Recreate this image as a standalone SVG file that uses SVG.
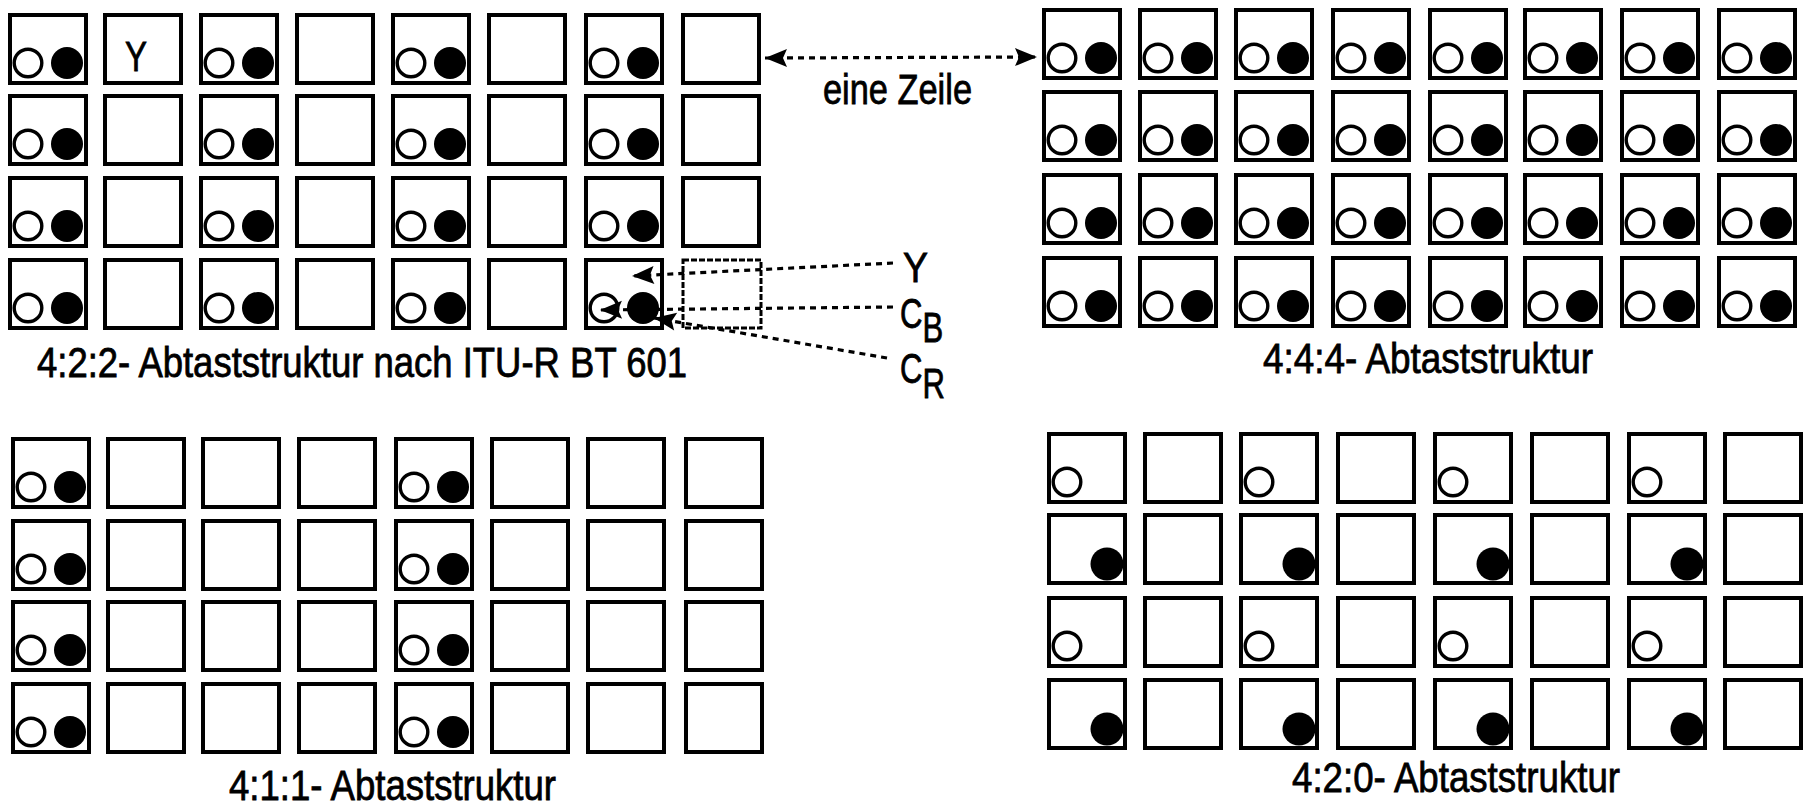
<svg xmlns="http://www.w3.org/2000/svg" width="1804" height="810" viewBox="0 0 1804 810">
  <style>
    .box { fill: #fff; stroke: #000; stroke-width: 4; }
    .open { fill: #fff; stroke: #000; stroke-width: 3.4; }
    .full { fill: #000; }
    .dash { fill: none; stroke: #000; stroke-width: 3; stroke-dasharray: 6 2; }
    .conn { fill: none; stroke: #000; stroke-width: 3.2; stroke-dasharray: 6 5; }
    text { font-family: "Liberation Sans", Arial, sans-serif; fill: #000; stroke: #000; stroke-width: 0.8; }
    .lbl { font-size: 42px; }
    .sym { font-size: 42px; }
  </style>
  <defs>
    <marker id="head" markerUnits="userSpaceOnUse" markerWidth="30" markerHeight="30" refX="22" refY="0" orient="auto-start-reverse" overflow="visible">
      <path d="M0,-9 L22,0 L0,9 L4,0 z" fill="#000"/>
    </marker>
    <!-- cell templates: outer box 80 x 72 -->
    <g id="box"><rect class="box" x="2" y="2" width="76" height="68"/></g>
    <g id="both"><use href="#box"/><circle class="open" cx="20" cy="50" r="13.8"/><circle class="full" cx="59" cy="50" r="16"/></g>
    <g id="cb"><use href="#box"/><circle class="open" cx="20" cy="50" r="13.8"/></g>
    <g id="cr"><use href="#box"/><circle class="full" cx="60" cy="51" r="16.5"/></g>
  </defs>
  <rect width="1804" height="810" fill="#fff"/>

  <!-- 4:2:2 -->
  <g id="grid422">
    <use id="s422-1-1" href="#both" x="8" y="13"/>
    <g id="s422-1-2"><use href="#box" x="103" y="13"/><text class="sym" x="125" y="71" textLength="22" lengthAdjust="spacingAndGlyphs">Y</text></g>
    <use id="s422-1-3" href="#both" x="199" y="13"/>
    <use id="s422-1-4" href="#box" x="295" y="13"/>
    <use id="s422-1-5" href="#both" x="391" y="13"/>
    <use id="s422-1-6" href="#box" x="487" y="13"/>
    <use id="s422-1-7" href="#both" x="584" y="13"/>
    <use id="s422-1-8" href="#box" x="681" y="13"/>

    <use id="s422-2-1" href="#both" x="8" y="94"/>
    <use id="s422-2-2" href="#box" x="103" y="94"/>
    <use id="s422-2-3" href="#both" x="199" y="94"/>
    <use id="s422-2-4" href="#box" x="295" y="94"/>
    <use id="s422-2-5" href="#both" x="391" y="94"/>
    <use id="s422-2-6" href="#box" x="487" y="94"/>
    <use id="s422-2-7" href="#both" x="584" y="94"/>
    <use id="s422-2-8" href="#box" x="681" y="94"/>

    <use id="s422-3-1" href="#both" x="8" y="176"/>
    <use id="s422-3-2" href="#box" x="103" y="176"/>
    <use id="s422-3-3" href="#both" x="199" y="176"/>
    <use id="s422-3-4" href="#box" x="295" y="176"/>
    <use id="s422-3-5" href="#both" x="391" y="176"/>
    <use id="s422-3-6" href="#box" x="487" y="176"/>
    <use id="s422-3-7" href="#both" x="584" y="176"/>
    <use id="s422-3-8" href="#box" x="681" y="176"/>

    <use id="s422-4-1" href="#both" x="8" y="258"/>
    <use id="s422-4-2" href="#box" x="103" y="258"/>
    <use id="s422-4-3" href="#both" x="199" y="258"/>
    <use id="s422-4-4" href="#box" x="295" y="258"/>
    <use id="s422-4-5" href="#both" x="391" y="258"/>
    <use id="s422-4-6" href="#box" x="487" y="258"/>
    <use id="s422-4-7" href="#both" x="584" y="258"/>
    <rect id="s422-4-8" class="dash" x="683" y="260" width="78" height="68"/>
    <text class="lbl" x="37" y="377" textLength="650" lengthAdjust="spacingAndGlyphs">4:2:2- Abtaststruktur nach ITU-R BT 601</text>
  </g>

  <!-- 4:4:4 -->
  <g id="grid444">
    <use id="s444-1-1" href="#both" x="1042" y="8"/>
    <use id="s444-1-2" href="#both" x="1138" y="8"/>
    <use id="s444-1-3" href="#both" x="1234" y="8"/>
    <use id="s444-1-4" href="#both" x="1331" y="8"/>
    <use id="s444-1-5" href="#both" x="1428" y="8"/>
    <use id="s444-1-6" href="#both" x="1523" y="8"/>
    <use id="s444-1-7" href="#both" x="1620" y="8"/>
    <use id="s444-1-8" href="#both" x="1717" y="8"/>

    <use id="s444-2-1" href="#both" x="1042" y="90"/>
    <use id="s444-2-2" href="#both" x="1138" y="90"/>
    <use id="s444-2-3" href="#both" x="1234" y="90"/>
    <use id="s444-2-4" href="#both" x="1331" y="90"/>
    <use id="s444-2-5" href="#both" x="1428" y="90"/>
    <use id="s444-2-6" href="#both" x="1523" y="90"/>
    <use id="s444-2-7" href="#both" x="1620" y="90"/>
    <use id="s444-2-8" href="#both" x="1717" y="90"/>

    <use id="s444-3-1" href="#both" x="1042" y="173"/>
    <use id="s444-3-2" href="#both" x="1138" y="173"/>
    <use id="s444-3-3" href="#both" x="1234" y="173"/>
    <use id="s444-3-4" href="#both" x="1331" y="173"/>
    <use id="s444-3-5" href="#both" x="1428" y="173"/>
    <use id="s444-3-6" href="#both" x="1523" y="173"/>
    <use id="s444-3-7" href="#both" x="1620" y="173"/>
    <use id="s444-3-8" href="#both" x="1717" y="173"/>

    <use id="s444-4-1" href="#both" x="1042" y="256"/>
    <use id="s444-4-2" href="#both" x="1138" y="256"/>
    <use id="s444-4-3" href="#both" x="1234" y="256"/>
    <use id="s444-4-4" href="#both" x="1331" y="256"/>
    <use id="s444-4-5" href="#both" x="1428" y="256"/>
    <use id="s444-4-6" href="#both" x="1523" y="256"/>
    <use id="s444-4-7" href="#both" x="1620" y="256"/>
    <use id="s444-4-8" href="#both" x="1717" y="256"/>
    <text class="lbl" x="1263" y="373" textLength="330" lengthAdjust="spacingAndGlyphs">4:4:4- Abtaststruktur</text>
  </g>

  <!-- 4:1:1 -->
  <g id="grid411">
    <use id="s411-1-1" href="#both" x="11" y="437"/>
    <use id="s411-1-2" href="#box" x="106" y="437"/>
    <use id="s411-1-3" href="#box" x="201" y="437"/>
    <use id="s411-1-4" href="#box" x="297" y="437"/>
    <use id="s411-1-5" href="#both" x="394" y="437"/>
    <use id="s411-1-6" href="#box" x="490" y="437"/>
    <use id="s411-1-7" href="#box" x="586" y="437"/>
    <use id="s411-1-8" href="#box" x="684" y="437"/>

    <use id="s411-2-1" href="#both" x="11" y="519"/>
    <use id="s411-2-2" href="#box" x="106" y="519"/>
    <use id="s411-2-3" href="#box" x="201" y="519"/>
    <use id="s411-2-4" href="#box" x="297" y="519"/>
    <use id="s411-2-5" href="#both" x="394" y="519"/>
    <use id="s411-2-6" href="#box" x="490" y="519"/>
    <use id="s411-2-7" href="#box" x="586" y="519"/>
    <use id="s411-2-8" href="#box" x="684" y="519"/>

    <use id="s411-3-1" href="#both" x="11" y="600"/>
    <use id="s411-3-2" href="#box" x="106" y="600"/>
    <use id="s411-3-3" href="#box" x="201" y="600"/>
    <use id="s411-3-4" href="#box" x="297" y="600"/>
    <use id="s411-3-5" href="#both" x="394" y="600"/>
    <use id="s411-3-6" href="#box" x="490" y="600"/>
    <use id="s411-3-7" href="#box" x="586" y="600"/>
    <use id="s411-3-8" href="#box" x="684" y="600"/>

    <use id="s411-4-1" href="#both" x="11" y="682"/>
    <use id="s411-4-2" href="#box" x="106" y="682"/>
    <use id="s411-4-3" href="#box" x="201" y="682"/>
    <use id="s411-4-4" href="#box" x="297" y="682"/>
    <use id="s411-4-5" href="#both" x="394" y="682"/>
    <use id="s411-4-6" href="#box" x="490" y="682"/>
    <use id="s411-4-7" href="#box" x="586" y="682"/>
    <use id="s411-4-8" href="#box" x="684" y="682"/>
    <text class="lbl" x="229" y="800" textLength="327" lengthAdjust="spacingAndGlyphs">4:1:1- Abtaststruktur</text>
  </g>

  <!-- 4:2:0 -->
  <g id="grid420">
    <use id="s420-1-1" href="#cb" x="1047" y="432"/>
    <use id="s420-1-2" href="#box" x="1143" y="432"/>
    <use id="s420-1-3" href="#cb" x="1239" y="432"/>
    <use id="s420-1-4" href="#box" x="1336" y="432"/>
    <use id="s420-1-5" href="#cb" x="1433" y="432"/>
    <use id="s420-1-6" href="#box" x="1530" y="432"/>
    <use id="s420-1-7" href="#cb" x="1627" y="432"/>
    <use id="s420-1-8" href="#box" x="1723" y="432"/>

    <use id="s420-2-1" href="#cr" x="1047" y="513"/>
    <use id="s420-2-2" href="#box" x="1143" y="513"/>
    <use id="s420-2-3" href="#cr" x="1239" y="513"/>
    <use id="s420-2-4" href="#box" x="1336" y="513"/>
    <use id="s420-2-5" href="#cr" x="1433" y="513"/>
    <use id="s420-2-6" href="#box" x="1530" y="513"/>
    <use id="s420-2-7" href="#cr" x="1627" y="513"/>
    <use id="s420-2-8" href="#box" x="1723" y="513"/>

    <use id="s420-3-1" href="#cb" x="1047" y="596"/>
    <use id="s420-3-2" href="#box" x="1143" y="596"/>
    <use id="s420-3-3" href="#cb" x="1239" y="596"/>
    <use id="s420-3-4" href="#box" x="1336" y="596"/>
    <use id="s420-3-5" href="#cb" x="1433" y="596"/>
    <use id="s420-3-6" href="#box" x="1530" y="596"/>
    <use id="s420-3-7" href="#cb" x="1627" y="596"/>
    <use id="s420-3-8" href="#box" x="1723" y="596"/>

    <use id="s420-4-1" href="#cr" x="1047" y="678"/>
    <use id="s420-4-2" href="#box" x="1143" y="678"/>
    <use id="s420-4-3" href="#cr" x="1239" y="678"/>
    <use id="s420-4-4" href="#box" x="1336" y="678"/>
    <use id="s420-4-5" href="#cr" x="1433" y="678"/>
    <use id="s420-4-6" href="#box" x="1530" y="678"/>
    <use id="s420-4-7" href="#cr" x="1627" y="678"/>
    <use id="s420-4-8" href="#box" x="1723" y="678"/>
    <text class="lbl" x="1292" y="792" textLength="328" lengthAdjust="spacingAndGlyphs">4:2:0- Abtaststruktur</text>
  </g>

  <!-- annotations -->
  <g id="connectors">
    <line class="conn" x1="765" y1="58" x2="1037" y2="57" marker-start="url(#head)" marker-end="url(#head)"/>
    <line class="conn" x1="893" y1="263" x2="632" y2="276" marker-end="url(#head)"/>
    <line class="conn" x1="893" y1="307" x2="600" y2="310" marker-end="url(#head)"/>
    <line class="conn" x1="887" y1="358" x2="654" y2="318" marker-end="url(#head)"/>
  </g>

  <g id="legend">
    <text class="lbl" x="823" y="104" font-size="40" textLength="149" lengthAdjust="spacingAndGlyphs">eine Zeile</text>
    <text class="sym" x="903" y="282" textLength="25" lengthAdjust="spacingAndGlyphs">Y</text>
    <!-- component labels with subscripts, horizontally condensed -->
    <text class="sym" transform="translate(900 328) scale(0.74 1)">C<tspan dy="14">B</tspan></text>
    <text class="sym" transform="translate(900 383) scale(0.74 1)">C<tspan dy="15">R</tspan></text>
  </g>
</svg>
